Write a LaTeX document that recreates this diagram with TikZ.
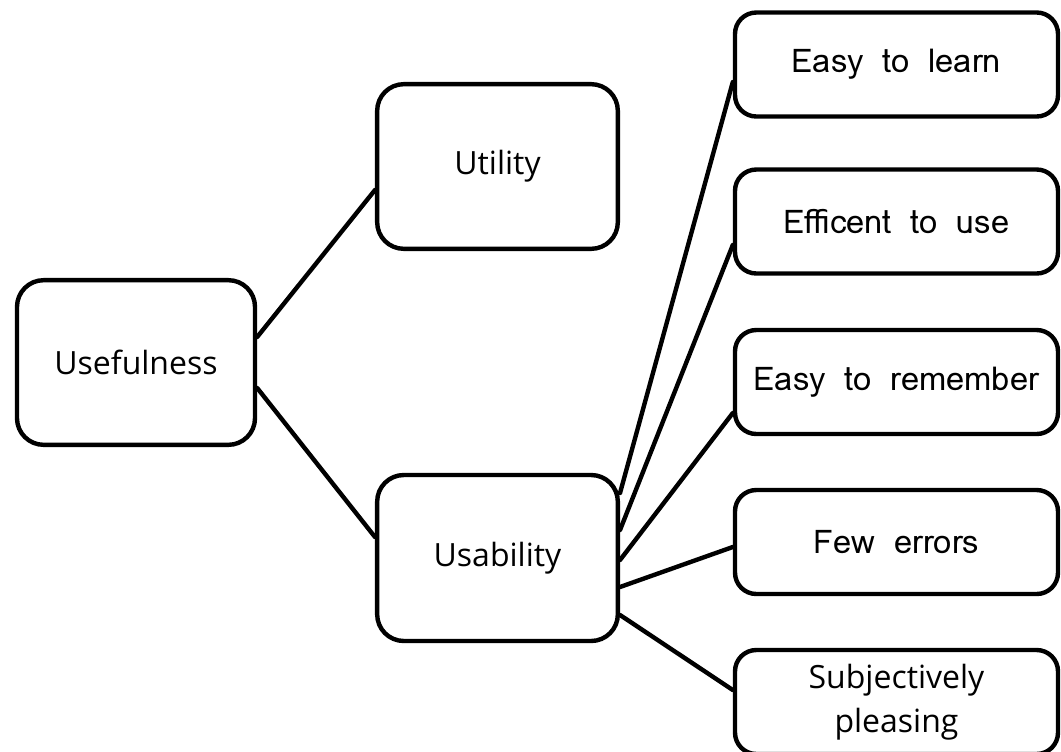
\documentclass[tikz,border=0pt]{standalone}
\usepackage{fontspec}
\setmainfont{Open Sans}
\newfontfamily\lomafont[WordSpace=1.7]{Loma}
\usetikzlibrary{calc}
\begin{document}
\begin{tikzpicture}[x=0.75pt,y=-0.75pt,
  box/.style={draw=black,line width=3.3pt,rounded corners=20pt,fill=white,
    align=center,inner sep=0pt,font=\fontsize{24}{29}\selectfont},
  bigbox/.style={box,minimum width=180.5pt,minimum height=123.5pt},
  leafbox/.style={box,rounded corners=16pt,minimum width=242.25pt,minimum height=78pt},
  leaftext/.style={font=\lomafont\fontsize{24.5}{30}\selectfont},
  link/.style={line width=3.3pt,line cap=round}]
\useasboundingbox (0,0) rectangle (1061,751);
\clip (0,0) rectangle (1061,751);

% boxes
\node[bigbox,minimum width=178.5pt] (useful) at (136,362.5) {Usefulness};
\node[bigbox] (utility) at (497.5,166.5) {Utility};
\node[bigbox,minimum height=124.5pt] (usab) at (497.5,558) {Usability};

\node[leafbox,leaftext] (learn) at (896.5,64.5) {\raisebox{-3pt}{Easy to learn}};
\node[leafbox,leaftext] (effic) at (896.5,221.5) {\raisebox{-3pt}{Efficent to use}};
\node[leafbox,leaftext] (remem) at (896.5,382) {\raisebox{-3pt}{Easy to remember}};
\node[leafbox,leaftext] (errors) at (896.5,542) {\raisebox{-3pt}{Few errors}};
\node[leafbox,font=\fontsize{24}{33}\selectfont] (pleas) at (896.5,702) {Subjectively\\pleasing};

% connectors between the boxes
\draw[link] ($(useful.east)+(0,-25.5)$) -- ($(utility.west)+(0,23.5)$);
\draw[link] ($(useful.east)+(0,25.5)$) -- ($(usab.west)+(0,-21)$);
\draw[link] ($(usab.east)+(0,-65)$) -- ($(learn.west)+(0,17.5)$);
\draw[link] ($(usab.east)+(0,-28)$) -- ($(effic.west)+(0,23.5)$);
\draw[link] ($(usab.east)+(0,2)$) -- ($(remem.west)+(0,31)$);
\draw[link] ($(usab.east)+(0,29)$) -- ($(errors.west)+(0,5)$);
\draw[link] ($(usab.east)+(0,57)$) -- ($(pleas.west)+(0,-12)$);
\end{tikzpicture}
\end{document}
